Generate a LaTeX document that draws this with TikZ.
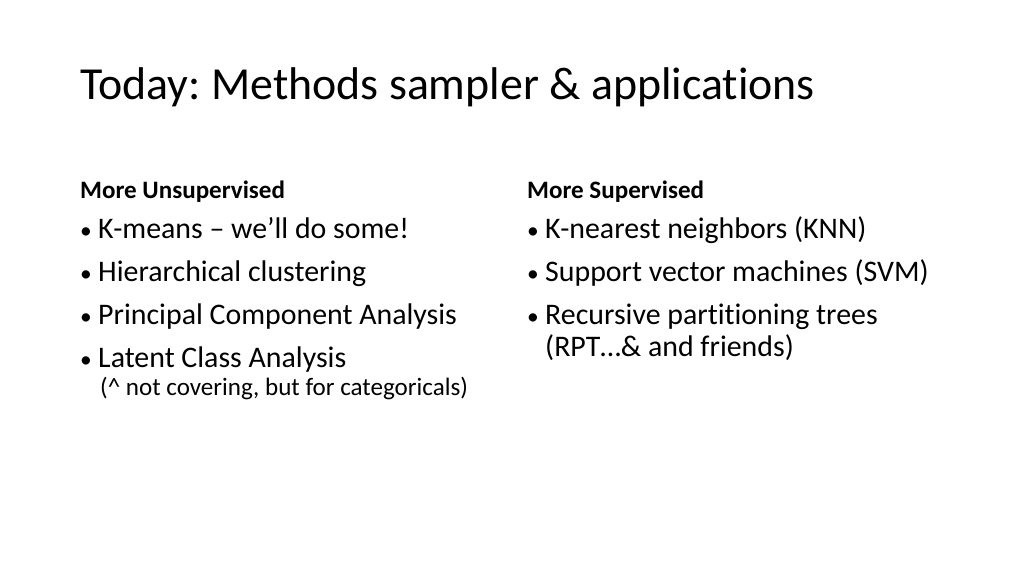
\documentclass[tikz,border=0pt]{standalone}
\usepackage{fontspec}
\setmainfont[Ligatures={NoCommon}]{Carlito}
\frenchspacing
\tikzset{
  txt/.style={anchor=base west, inner sep=0pt, font=\fontsize{28}{32}\selectfont},
  head/.style={anchor=base west, inner sep=0pt, font=\fontsize{23.5}{28}\selectfont\bfseries},
  note/.style={anchor=base west, inner sep=0pt, font=\fontsize{23.5}{28}\selectfont},
  dot/.style={anchor=base west, inner sep=0pt, font=\fontsize{22}{28}\selectfont}
}
\begin{document}
\begin{tikzpicture}[x=0.9375pt, y=-0.9375pt]
    \useasboundingbox (0,0) rectangle (1024,576);
    \node[anchor=base west, inner sep=0pt, font=\fontsize{43}{50}\selectfont] (title) at (80,100) {Today: Methods sampler \& applications};

    % left column
    \node[head] (unsup) at (80,198) {More Unsupervised};
    \node[dot] (b1) at (80,238) {\textbullet};
    \node[txt] (kmeans) at (98,238) {K-means -- we’ll do some!};
    \node[dot] (b2) at (80,281) {\textbullet};
    \node[txt] (hier) at (98,281) {Hierarchical clustering};
    \node[dot] (b3) at (80,324) {\textbullet};
    \node[txt] (pca) at (98,324) {Principal Component Analysis};
    \node[dot] (b4) at (80,367) {\textbullet};
    \node[txt] (lca) at (98,367) {Latent Class Analysis};
    \node[note] (lcanote) at (100,395) {(\^{} not covering, but for categoricals)};

    % right column
    \node[head] (sup) at (527,198) {More Supervised};
    \node[dot] (c1) at (527,238) {\textbullet};
    \node[txt] (knn) at (545,238) {K-nearest neighbors (KNN)};
    \node[dot] (c2) at (527,281) {\textbullet};
    \node[txt] (svm) at (545,281) {Support vector machines (SVM)};
    \node[dot] (c3) at (527,324) {\textbullet};
    \node[txt] (rpt) at (545,324) {Recursive partitioning trees};
    \node[txt] (rpt2) at (545,356) {(RPT…\& and friends)};
\end{tikzpicture}
\end{document}
